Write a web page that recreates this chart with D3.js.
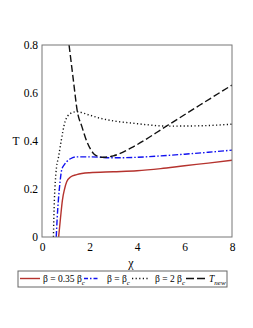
<!DOCTYPE html>
<html>
<head>
<meta charset="utf-8">
<script src="https://cdn.jsdelivr.net/npm/d3@7"></script>
<style>
  body { margin: 0; background: #fff; }
</style>
</head>
<body>
<div id="chart"></div>
<script>
// values
var chiRed   = [0.70, 0.78, 0.86, 0.95, 1.04, 1.2, 1.46, 2, 3, 4, 5, 6, 7, 8];
var tRed     = [0, 0.08, 0.154, 0.2, 0.23, 0.25, 0.26, 0.268, 0.272, 0.276, 0.285, 0.297, 0.308, 0.32];
var chiBlue  = [0.60, 0.64, 0.69, 0.76, 0.83, 0.93, 1.04, 1.2, 1.46, 2, 3, 4, 5, 6, 7, 8];
var tBlue    = [0, 0.08, 0.154, 0.23, 0.28, 0.30, 0.314, 0.326, 0.334, 0.334, 0.33, 0.332, 0.338, 0.345, 0.353, 0.362];
var chiDot   = [0.48, 0.52, 0.56, 0.61, 0.69, 0.79, 0.97, 1.2, 1.46, 2, 2.44, 3, 3.84, 4.5, 5.25, 6.5, 8];
var tDot     = [0, 0.15, 0.23, 0.29, 0.33, 0.39, 0.48, 0.515, 0.522, 0.508, 0.495, 0.484, 0.474, 0.467, 0.462, 0.463, 0.47];
var chiNew   = [1.14, 1.32, 1.49, 1.68, 1.88, 2.05, 2.23, 2.57, 3.0, 3.84, 5.25, 6.65, 8];
var tNew     = [0.8, 0.654, 0.522, 0.46, 0.40, 0.365, 0.342, 0.332, 0.338, 0.376, 0.4625, 0.55, 0.633];

var xTicks = [0, 2, 4, 6, 8];
var yTicks = [0, 0.2, 0.4, 0.6, 0.8];
var legendLabels = ['β = 0.35 β', 'β = β', 'β = 2 β', 'T'];

var serif = 'Liberation Serif';
var width = 253, height = 328;
var margin = {left: 42, right: 21, top: 45, bottom: 91};

var svg = d3.select('#chart')
    .append('svg')
        .attr('width', width)
        .attr('height', height)
        .attr('font-family', serif);

var x = d3.scaleLinear()
    .domain([0, 8])
    .range([margin.left, width - margin.right]);

var y = d3.scaleLinear()
    .domain([0, 0.8])
    .range([height - margin.bottom, margin.top]);

svg.append('clipPath')
    .attr('id', 'clip')
    .append('rect')
        .attr('x', x(0))
        .attr('y', y(0.8))
        .attr('width', x(8) - x(0))
        .attr('height', y(0) - y(0.8));

var series = [
    {xs: chiRed, ys: tRed, color: '#b5332e', dash: null, legDash: null},
    {xs: chiBlue, ys: tBlue, color: '#1010f0', dash: '6,2,1.5,2', legDash: '4,2,1.5,2'},
    {xs: chiDot, ys: tDot, color: '#111', dash: '1.2,2.4', legDash: '1.2,2.4'},
    {xs: chiNew, ys: tNew, color: '#111', dash: '7,3', legDash: '8,3'}
];

var line = d3.line()
    .x(d => x(d[0]))
    .y(d => y(d[1]))
    .curve(d3.curveMonotoneX);

svg.append('g')
    .attr('clip-path', 'url(#clip)')
    .selectAll('path')
    .data(series)
    .enter()
    .append('path')
        .attr('d', s => line(s.xs.map((v, i) => [v, s.ys[i]])))
        .attr('fill', 'none')
        .attr('stroke', s => s.color)
        .attr('stroke-width', 1.4)
        .attr('stroke-dasharray', s => s.dash);

// frame
svg.append('rect')
    .attr('x', x(0))
    .attr('y', y(0.8))
    .attr('width', x(8) - x(0))
    .attr('height', y(0) - y(0.8))
    .attr('fill', 'none')
    .attr('stroke', '#777')
    .attr('stroke-width', 1);

var xAxis = d3.axisBottom(x)
    .tickValues(xTicks)
    .tickSize(0)
    .tickPadding(6)
    .tickFormat(d3.format('d'));

var yAxis = d3.axisLeft(y)
    .tickValues(yTicks)
    .tickSize(0)
    .tickPadding(4)
    .tickFormat(d => d === 0 ? '0' : d3.format('.1f')(d));

svg.append('g')
    .attr('transform', 'translate(0,' + y(0) + ')')
    .call(xAxis)
    .attr('font-family', serif)
    .attr('font-size', 11.5)
    .call(g => g.select('.domain').remove())
    .selectAll('text')
        .attr('fill', '#000');

svg.append('g')
    .attr('transform', 'translate(' + x(0) + ',0)')
    .call(yAxis)
    .attr('font-family', serif)
    .attr('font-size', 11.5)
    .call(g => g.select('.domain').remove())
    .selectAll('text')
        .attr('fill', '#000');

svg.append('text')
    .attr('x', 16)
    .attr('y', y(0.4) + 4)
    .attr('text-anchor', 'middle')
    .attr('font-size', 11.5)
    .text('T');

svg.append('text')
    .attr('x', (x(0) + x(8)) / 2 - 6)
    .attr('y', 267)
    .attr('text-anchor', 'middle')
    .attr('font-size', 12)
    .text('χ');

// legend
var leg = svg.append('g');
leg.append('rect')
    .attr('x', 18)
    .attr('y', 271)
    .attr('width', 209)
    .attr('height', 16)
    .attr('fill', 'none')
    .attr('stroke', '#666')
    .attr('stroke-width', 1);

var legItems = [
    {x1: 20, x2: 40, tx: 43},
    {x1: 84, x2: 99, tx: 107},
    {x1: 132, x2: 150, tx: 155},
    {x1: 186, x2: 205, tx: 209}
];

leg.selectAll('line')
    .data(series)
    .enter()
    .append('line')
        .attr('x1', (s, i) => legItems[i].x1)
        .attr('x2', (s, i) => legItems[i].x2)
        .attr('y1', 278.5)
        .attr('y2', 278.5)
        .attr('stroke', s => s.color)
        .attr('stroke-width', 1.4)
        .attr('stroke-dasharray', s => s.legDash);

legendLabels.forEach(function(lab, i) {
    var t = leg.append('text')
        .attr('x', legItems[i].tx)
        .attr('y', 282)
        .attr('font-size', 9.5);
    if (i < 3) {
        t.append('tspan').text(lab);
        t.append('tspan')
            .attr('dy', 3)
            .attr('font-size', 7)
            .attr('font-style', 'italic')
            .text('c');
    } else {
        t.append('tspan').attr('font-style', 'italic').text(lab);
        t.append('tspan')
            .attr('dy', 3)
            .attr('font-size', 7)
            .attr('font-style', 'italic')
            .text('new');
    }
});
</script>
</body>
</html>
